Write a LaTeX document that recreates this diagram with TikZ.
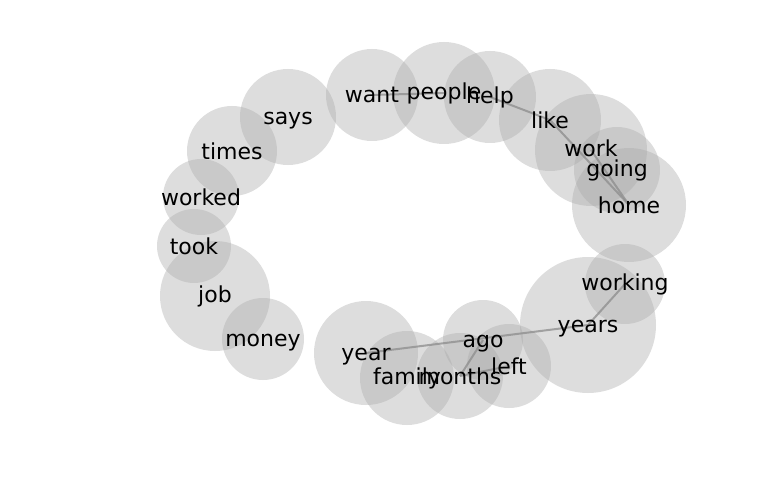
\documentclass[tikz,border=0pt]{standalone}
\usepackage{fontspec}
\setmainfont{DejaVu Sans}
\usepackage{xcolor}
\definecolor{bubblegray}{gray}{0.667}
\definecolor{edgegray}{gray}{0.55}

\begin{document}
\begin{tikzpicture}[
        x=1pt, y=-1pt,
        bubble/.style={circle, draw=none, fill=bubblegray, fill opacity=0.4, inner sep=0pt},
        word/.style={font=\fontsize{22}{26}\selectfont, inner sep=0pt, text=black},
        lowword/.style={word, yshift=-4pt},
        edge/.style={draw=edgegray, line width=2pt, opacity=0.75}
    ]
        \useasboundingbox (0,0) rectangle (768,500);

        % bubbles
        \node [bubble, minimum size=96pt] (says) at (288,117) {};
        \node [bubble, minimum size=90pt] (times) at (232,151) {};
        \node [bubble, minimum size=76pt] (worked) at (201,197) {};
        \node [bubble, minimum size=74pt] (took) at (194,246) {};
        \node [bubble, minimum size=110pt] (job) at (215,296) {};
        \node [bubble, minimum size=82pt] (money) at (263,339) {};
        \node [bubble, minimum size=92pt] (want) at (372,95) {};
        \node [bubble, minimum size=102pt] (people) at (444,93) {};
        \node [bubble, minimum size=92pt] (help) at (490,97) {};
        \node [bubble, minimum size=102pt] (like) at (550,120) {};
        \node [bubble, minimum size=112pt] (work) at (591,150) {};
        \node [bubble, minimum size=86pt] (going) at (617,170) {};
        \node [bubble, minimum size=114pt] (home) at (629,205) {};
        \node [bubble, minimum size=80pt] (working) at (625,284) {};
        \node [bubble, minimum size=136pt] (years) at (588,325) {};
        \node [bubble, minimum size=104pt] (year) at (366,353) {};
        \node [bubble, minimum size=94pt] (family) at (407,378) {};
        \node [bubble, minimum size=86pt] (months) at (460,376) {};
        \node [bubble, minimum size=80pt] (ago) at (483,340) {};
        \node [bubble, minimum size=84pt] (left) at (509,366) {};

        % links
        \draw [edge] (want.center) -- (people.center);
        \draw [edge] (help.center) -- (like.center);
        \draw [edge] (like.center) -- (home.center);
        \draw [edge] (work.center) -- (home.center);
        \draw [edge] (year.center) -- (years.center);
        \draw [edge] (years.center) -- (working.center);
        \draw [edge] (months.center) -- (ago.center);
        \draw [edge] (months.center) -- (left.center);

        % words
        \node [lowword] (says-w) at (says.center) {says};
        \node [word] (times-w) at (times.center) {times};
        \node [word] (worked-w) at (worked.center) {worked};
        \node [word] (took-w) at (took.center) {took};
        \node [word] (job-w) at (job.center) {job};
        \node [lowword] (money-w) at (money.center) {money};
        \node [word] (want-w) at (want.center) {want};
        \node [word] (people-w) at (people.center) {people};
        \node [word] (help-w) at (help.center) {help};
        \node [word] (like-w) at (like.center) {like};
        \node [word, yshift=2pt] (work-w) at (work.center) {work};
        \node [word] (going-w) at (going.center) {going};
        \node [word] (home-w) at (home.center) {home};
        \node [word] (working-w) at (working.center) {working};
        \node [lowword] (years-w) at (years.center) {years};
        \node [lowword] (year-w) at (year.center) {year};
        \node [word] (family-w) at (family.center) {family};
        \node [word] (months-w) at (months.center) {months};
        \node [lowword] (ago-w) at (ago.center) {ago};
        \node [word] (left-w) at (left.center) {left};
    \end{tikzpicture}
\end{document}
